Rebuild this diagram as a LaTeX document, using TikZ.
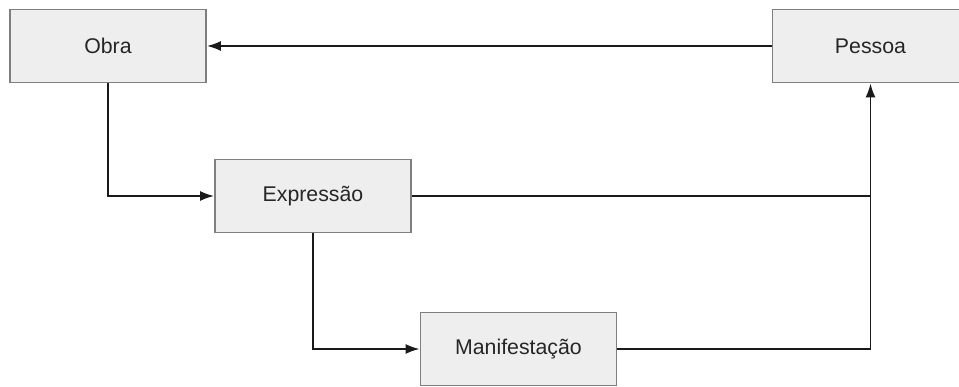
\documentclass[tikz,border=0pt]{standalone}
\usepackage{fontspec}
\setmainfont{Liberation Sans}
\usetikzlibrary{arrows.meta}
\definecolor{boxfill}{HTML}{EEEEEE}
\definecolor{boxline}{HTML}{7F7F7F}
\definecolor{wire}{HTML}{1A1A1A}
\begin{document}
\begin{tikzpicture}[x=1pt,y=-1pt,
  entity/.style={draw=boxline, fill=boxfill, line width=1.8pt, minimum width=196pt,
    minimum height=73pt, inner sep=0pt, font=\fontsize{21.3}{25}\selectfont, text=black!85},
  link/.style={draw=wire, line width=1.8pt},
  tip/.style={-{Latex[length=14pt,width=10pt]}}]
\useasboundingbox (0,0) rectangle (959,387);
\node[entity] (obra) at (108,46) {Obra};
\node[entity] (pessoa) at (870.5,46) {Pessoa};
\node[entity] (expr) at (313,196) {Expressão};
\node[entity] (manif) at (518.5,349) {Manifestação};
\coordinate (join) at (pessoa.south |- expr.east);
\draw[link,tip] (pessoa.west) -- (obra.east);
\draw[link,tip] (obra.south) |- (expr.west);
\draw[link,tip] (expr.south) |- (manif.west);
\draw[link] (expr.east) -- (join);
\draw[link,tip] (manif.east) -| (pessoa.south);
\end{tikzpicture}
\end{document}
